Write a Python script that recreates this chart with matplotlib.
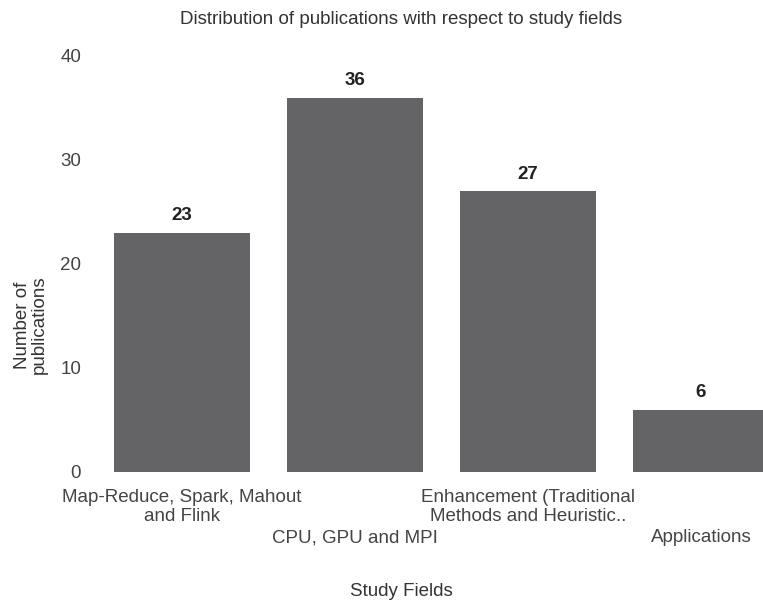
import matplotlib
matplotlib.use("Agg")
import matplotlib.pyplot as plt

plt.rcParams['font.family'] = ['Liberation Sans', 'DejaVu Sans']

fields = ["Map-Reduce, Spark, Mahout\nand Flink",
          "CPU, GPU and MPI",
          "Enhancement (Traditional\nMethods and Heuristic..",
          "Applications"]
counts = [23, 36, 27, 6]

W, H = 763, 603
fig = plt.figure(figsize=(W / 100, H / 100), dpi=100)

# axes placed in pixel terms
left_px, bottom_px, top_px = 88, 472, 45.6
ax_h = bottom_px - top_px
ax = fig.add_axes([left_px / W, (H - bottom_px) / H, 1 - left_px / W, ax_h / H])

pos = list(range(len(counts)))
ax.bar(pos, counts, width=0.79, color="#646466")
for p, c in zip(pos, counts):
    ax.text(p, c + 0.8, str(c), ha="center", va="bottom", fontsize=13.5,
            fontweight="bold", color="#222222")

pitch = 173.0
ax.set_xlim(-(182 - left_px) / pitch, (W - 182) / pitch)
ax.set_ylim(0, 41)
ax.set_yticks([0, 10, 20, 30, 40])
ax.tick_params(axis="y", length=0, pad=5, labelsize=13.5, labelcolor="#444444")

# dodged x labels: first row as tick labels, second row as texts lower down
ax.set_xticks(pos)
ax.set_xticklabels([f if i % 2 == 0 else "" for i, f in enumerate(fields)],
                   fontsize=13.5, color="#444444", linespacing=1.15)
ax.tick_params(axis="x", length=0, pad=12)
for i, f in enumerate(fields):
    if i % 2 == 1:
        ax.text(pos[i], -(538 - bottom_px) / ax_h, f, transform=ax.get_xaxis_transform(),
                ha="center", va="center", fontsize=13.5, color="#444444")

for s in ax.spines.values():
    s.set_visible(False)

fig.text(401 / W, 1 - 20 / H, "Distribution of publications with respect to study fields",
         ha="center", va="center", fontsize=13.5, color="#333333")
fig.text(401 / W, 1 - 592 / H, "Study Fields", ha="center", va="center",
         fontsize=13.5, color="#333333")
fig.text(31 / W, 1 - 325 / H, "Number of\npublications", ha="center", va="center",
         rotation=90, fontsize=13.5, color="#333333", linespacing=1.0)

fig.savefig("out.png", dpi=100)
